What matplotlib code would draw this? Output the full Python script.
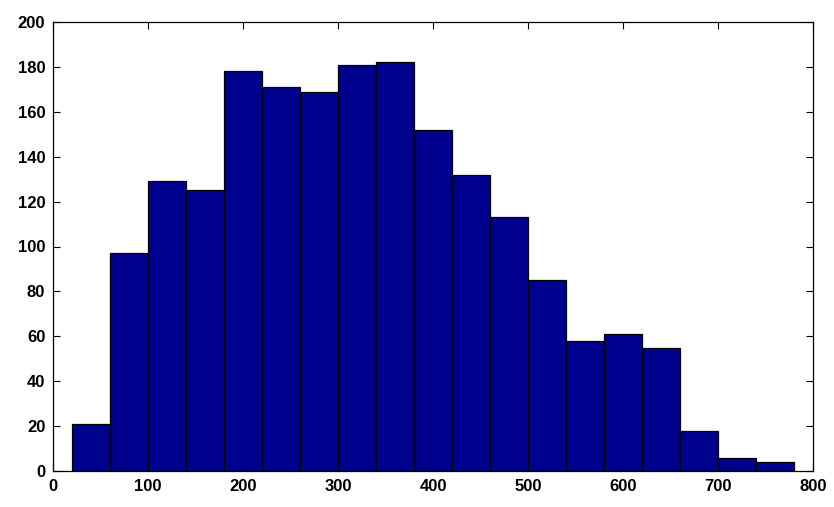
import matplotlib
matplotlib.use("Agg")
import matplotlib.pyplot as plt
import numpy as np

bin_left = [20, 60, 100, 140, 180, 220, 260, 300, 340, 380, 420, 460, 500, 540, 580, 620, 660, 700, 740]
counts = [21, 97, 129, 125, 178, 171, 169, 181, 182, 152, 132, 113, 85, 58, 61, 55, 18, 6, 4]
bin_width = 40
x_ticks = [0, 100, 200, 300, 400, 500, 600, 700, 800]
y_ticks = [0, 20, 40, 60, 80, 100, 120, 140, 160, 180, 200]

plt.rcParams['font.family'] = ['Liberation Sans', 'DejaVu Sans']

fig = plt.figure(figsize=(8.34, 5.07), dpi=100)
ax = fig.add_axes([53/834, 36/507, 760/834, 449/507])
ax.bar(bin_left, counts, width=bin_width, align='edge', color='#00008F',
       edgecolor='black', linewidth=0.9)
ax.set_xlim(0, 800)
ax.set_ylim(0, 200)
ax.set_xticks(x_ticks)
ax.set_yticks(y_ticks)
ax.tick_params(direction='in', top=True, right=True, length=5, width=0.8,
               labelsize=12)
ax.tick_params(axis='y', pad=5.5)
ax.tick_params(axis='x', pad=6.0)
for lab in ax.get_xticklabels() + ax.get_yticklabels():
    lab.set_fontweight('bold')
for s in ax.spines.values():
    s.set_linewidth(0.9)
fig.savefig("out.png", dpi=100)
